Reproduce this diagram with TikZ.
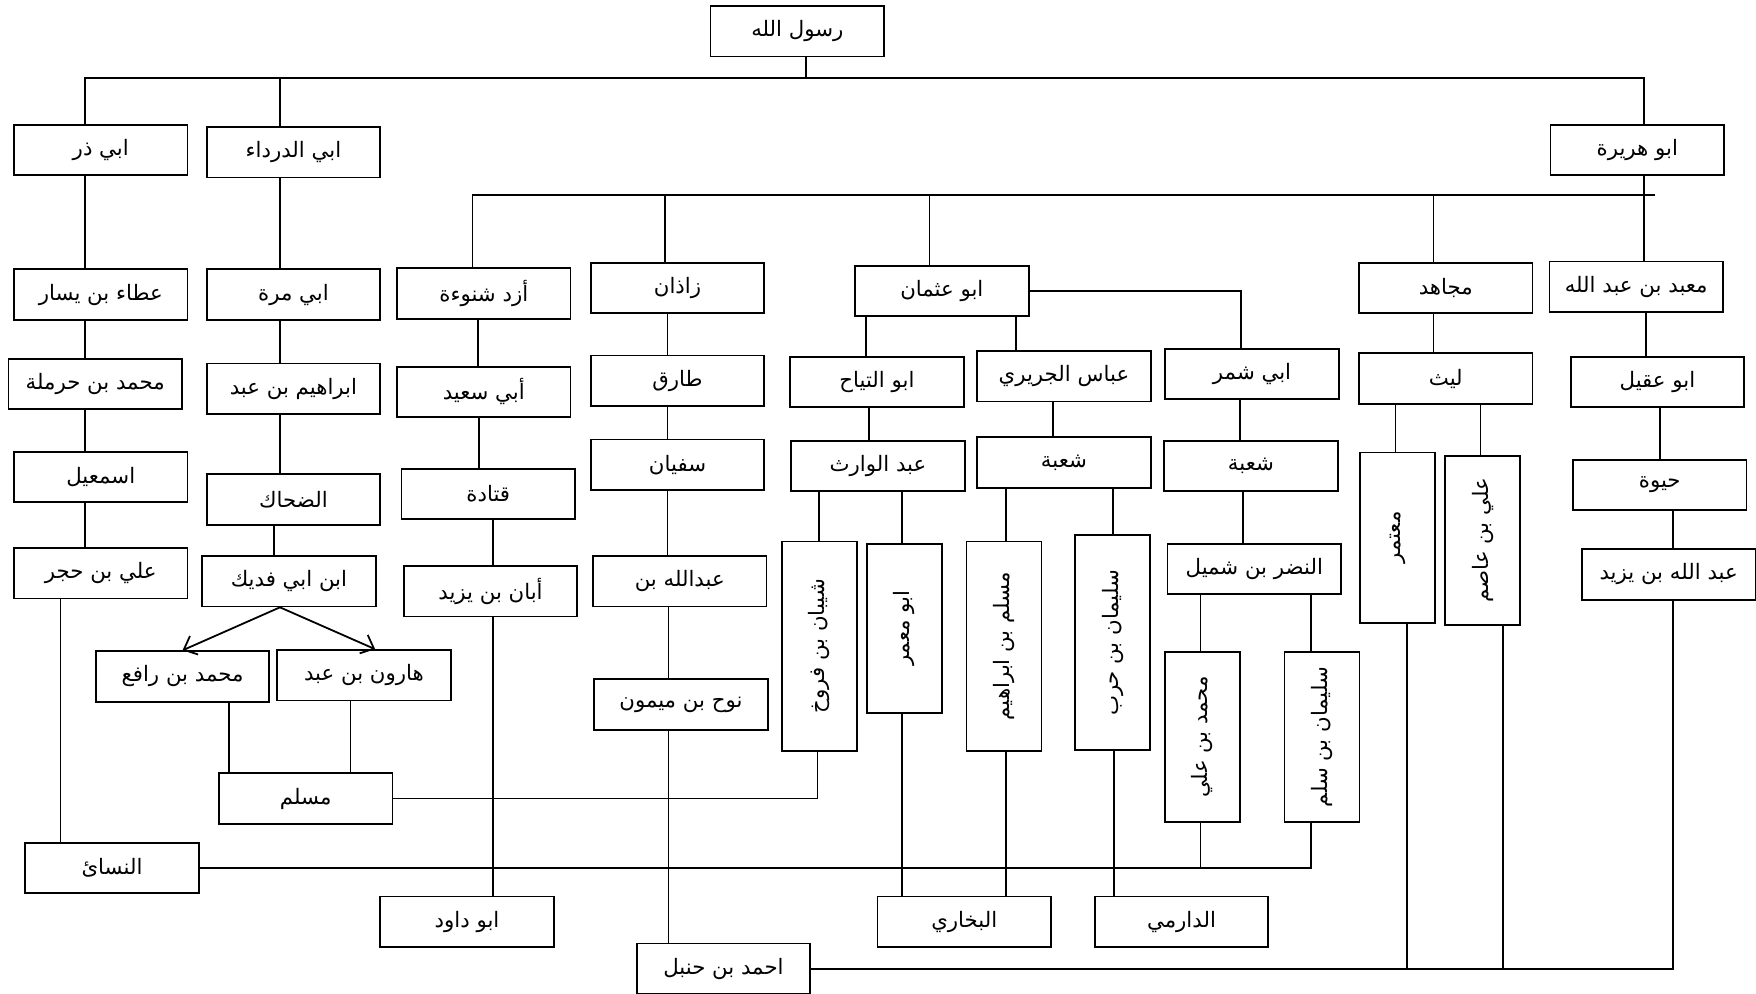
\documentclass[tikz,border=0pt]{standalone}
\usepackage{fontspec}
\usepackage{graphicx}
\usepackage{tikz}
\usetikzlibrary{arrows.meta}
\newfontfamily\arabicfont[Script=Arabic]{DejaVu Sans}
\TeXXeTstate=1
\newcommand{\artxt}[1]{{\arabicfont\beginR #1\endR}}
\newcommand{\vtxt}[1]{\rotatebox{90}{\artxt{#1}}}
\tikzset{%
    box/.style={draw,line width=0.8pt,minimum width=77.5pt,minimum height=22.5pt,
        inner sep=1pt,font=\fontsize{9.5}{11}\selectfont},
    vbox/.style={draw,line width=0.8pt,minimum width=33.5pt,minimum height=#1,
        inner sep=1pt,font=\fontsize{9.5}{11}\selectfont},
    link/.style={line width=0.8pt}
}
\begin{document}
\begin{tikzpicture}[x=0.5pt,y=-0.5pt]
\useasboundingbox (0,0) rectangle (1568,887);
% top rows
\node[box] (rasul) at (712,28) {\artxt{رسول الله}};
\node[box] (abudhar) at (90,134) {\artxt{ابي ذر}};
\node[box] (abidarda) at (262,136) {\artxt{ابي الدرداء}};
\node[box] (abuhuraira) at (1462,134) {\artxt{ابو هريرة}};
\node[box] (atta) at (90,263) {\artxt{عطاء بن يسار}};
\node[box] (abimurra) at (262,263) {\artxt{ابي مرة}};
\node[box] (azd) at (432,262) {\artxt{أزد شنوءة}};
\node[box] (zadhan) at (605,257) {\artxt{زاذان}};
\node[box] (abuuthman) at (841,260) {\artxt{ابو عثمان}};
\node[box] (mujahid) at (1291,257) {\artxt{مجاهد}};
\node[box] (mabad) at (1461,256) {\artxt{معبد بن عبد الله}};
\node[box] (harmala) at (85,343) {\artxt{محمد بن حرملة}};
\node[box] (ibrahim) at (262,347) {\artxt{ابراهيم بن عبد}};
\node[box] (abisaid) at (432,350) {\artxt{أبي سعيد}};
\node[box] (tariq) at (605,340) {\artxt{طارق}};
\node[box] (abutayyah) at (783,341) {\artxt{ابو التياح}};
\node[box] (abbas) at (950,336) {\artxt{عباس الجريري}};
\node[box] (abishamr) at (1118,334) {\artxt{ابي شمر}};
\node[box] (layth) at (1291,338) {\artxt{ليث}};
\node[box] (abuaqil) at (1480,341) {\artxt{ابو عقيل}};
\node[box] (ismail) at (90,426) {\artxt{اسمعيل}};
\node[box] (dahhak) at (262,446) {\artxt{الضحاك}};
\node[box] (qatada) at (436,441) {\artxt{قتادة}};
\node[box] (sufyan) at (605,415) {\artxt{سفيان}};
\node[box] (abdwarith) at (784,416) {\artxt{عبد الوارث}};
\node[box] (shubaa) at (950,413) {\artxt{شعبة}};
\node[box] (shubab) at (1117,416) {\artxt{شعبة}};
\node[box] (hayawa) at (1482,433) {\artxt{حيوة}};
\node[box] (alihajar) at (90,512) {\artxt{علي بن حجر}};
\node[box] (fudaik) at (258,519) {\artxt{ابن ابي فديك}};
\node[box] (aban) at (438,528) {\artxt{أبان بن يزيد}};
\node[box] (abdallah) at (607,519) {\artxt{عبدالله بن}};
\node[box] (nadr) at (1120,508) {\artxt{النضر بن شميل}};
\node[box] (abdallahyazid) at (1490,513) {\artxt{عبد الله بن يزيد}};
\node[box] (rafi) at (163,604) {\artxt{محمد بن رافع}};
\node[box] (harun) at (325,603) {\artxt{هارون بن عبد}};
\node[box] (nuh) at (608,629) {\artxt{نوح بن ميمون}};
\node[box] (muslim) at (273,713) {\artxt{مسلم}};
\node[box] (nasai) at (100,775) {\artxt{النسائ}};
\node[box] (abudawud) at (417,823) {\artxt{ابو داود}};
\node[box] (bukhari) at (861,823) {\artxt{البخاري}};
\node[box] (darimi) at (1055,823) {\artxt{الدارمي}};
\node[box] (hanbal) at (646,865) {\artxt{احمد بن حنبل}};
% upright boxes
\node[vbox=93.5pt] (shayban) at (731.5,577) {\vtxt{شيبان بن فروخ}};
\node[vbox=75.5pt] (abumamar) at (807.5,561) {\vtxt{ابو معمر}};
\node[vbox=93.5pt] (muslimibr) at (896.5,577) {\vtxt{مسلم بن ابراهيم}};
\node[vbox=96pt] (sulaimanharb) at (993.5,574) {\vtxt{سليمان بن حرب}};
\node[vbox=76pt] (muhammadali) at (1073.5,658) {\vtxt{محمد بن علي}};
\node[vbox=76pt] (sulaimansalm) at (1180.5,658) {\vtxt{سليمان بن سلم}};
\node[vbox=76pt] (mutamir) at (1248,480) {\vtxt{معتمر}};
\node[vbox=75.5pt] (aliasim) at (1324,482.5) {\vtxt{علي بن عاصم}};
% buses
\coordinate (busa) at (712,70);
\coordinate (busb) at (1478,174);
\draw[link] ([xshift=4pt]rasul.south) -- ([xshift=4pt]rasul.south |- busa);
\draw[link] ([xshift=-7pt]abudhar.north) |- (busa) -| ([xshift=3pt]abuhuraira.north);
\draw[link] ([xshift=-6pt]abidarda.north) -- ([xshift=-6pt]abidarda.north |- busa);
\draw[link] ([xshift=3pt]abuhuraira.south) -- ([xshift=3pt]abuhuraira.south |- mabad.north);
\draw[link] ([xshift=-5pt]azd.north) |- (busb);
\foreach \n in {zadhan,abuuthman,mujahid}
    \draw[link] ([xshift=-5.5pt]\n.north) -- ([xshift=-5.5pt]\n.north |- busb);
% chains: parent/child/offset of the line
\foreach \a/\b/\s in {abudhar/atta/-7,atta/harmala/-4.5,harmala/ismail/-7,ismail/alihajar/-7,
    abidarda/abimurra/-6,abimurra/ibrahim/-6,ibrahim/dahhak/-6,dahhak/fudaik/-6.5,
    azd/abisaid/-2.5,abisaid/qatada/-4,qatada/aban/1,
    zadhan/tariq/-4.5,tariq/sufyan/-4.5,sufyan/abdallah/-5.5,abdallah/nuh/-5.5,
    abuuthman/abutayyah/-5,abutayyah/abdwarith/-4,abbas/shubaa/-5,
    abishamr/shubab/-5,shubab/nadr/-5,
    mujahid/layth/-5.5,mabad/abuaqil/-5,abuaqil/hayawa/0,hayawa/abdallahyazid/2,
    abdwarith/shayban/0,abdwarith/abumamar/-1,shubaa/muslimibr/0.75,
    shubaa/sulaimanharb/0,nadr/muhammadali/-0.75,nadr/sulaimansalm/-5,
    layth/mutamir/-1,layth/aliasim/-1}
    \draw[link] ([xshift=\s pt]\b.north) -- ([xshift=\s pt]\b.north |- \a.south);
\draw[link] ([xshift=-6pt]abuuthman.south east) -- ([xshift=-6pt]abuuthman.south east |- abbas.north);
\draw[link] (abuuthman.east) -| ([xshift=-5pt]abishamr.north);
% ibn abi fudaik
\draw[link,-{Straight Barb[length=5pt,width=9pt]}] ([xshift=-4pt]fudaik.south) -- (rafi.north);
\draw[link,-{Straight Barb[length=5pt,width=9pt]}] ([xshift=-4pt]fudaik.south) -- ([xshift=5pt]harun.north);
\draw[link] ([xshift=5pt]muslim.north west) -- ([xshift=5pt]muslim.north west |- rafi.south);
\draw[link] ([xshift=-6pt]harun.south) -- ([xshift=-6pt]harun.south |- muslim.north);
\draw[link] (muslim.east) -| ([xshift=-0.75pt]shayban.south);
% collectors
\draw[link] ([xshift=-18pt]alihajar.south) -- ([xshift=-18pt]alihajar.south |- nasai.north);
\draw[link] (nasai.east) -| ([xshift=-5pt]sulaimansalm.south);
\draw[link] ([xshift=-0.75pt]muhammadali.south) -- ([xshift=-0.75pt]muhammadali.south |- nasai.east);
\draw[link] ([xshift=1pt]aban.south) -- ([xshift=1pt]aban.south |- abudawud.north);
\draw[link] ([xshift=-5.5pt]nuh.south) -- ([xshift=-5.5pt]nuh.south |- hanbal.north);
\draw[link] ([xshift=-1pt]abumamar.south) -- ([xshift=-1pt]abumamar.south |- bukhari.north);
\draw[link] ([xshift=0.75pt]muslimibr.south) -- ([xshift=0.75pt]muslimibr.south |- bukhari.north);
\draw[link] ([xshift=0.75pt]sulaimanharb.south) -- ([xshift=0.75pt]sulaimanharb.south |- darimi.north);
\draw[link] (hanbal.east) -| ([xshift=2pt]abdallahyazid.south);
\draw[link] ([xshift=4pt]mutamir.south) -- ([xshift=4pt]mutamir.south |- hanbal.east);
\draw[link] ([xshift=9pt]aliasim.south) -- ([xshift=9pt]aliasim.south |- hanbal.east);
\end{tikzpicture}
\end{document}
